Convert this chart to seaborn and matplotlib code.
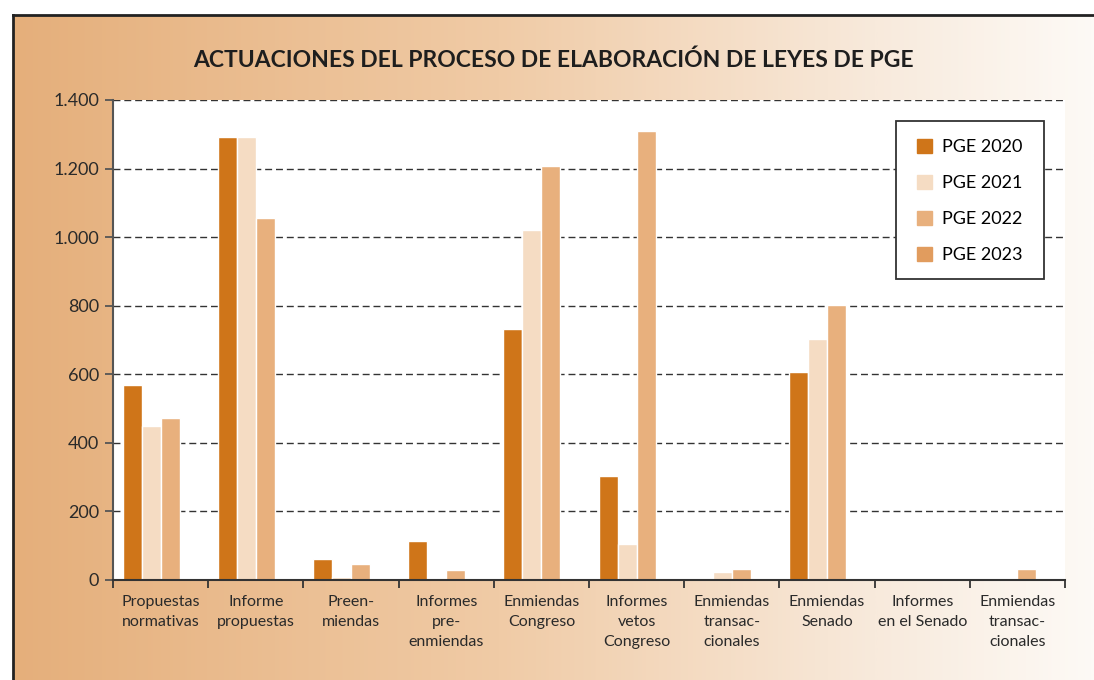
import numpy as np
import pandas as pd
import seaborn as sns
import matplotlib.pyplot as plt
from matplotlib.colors import LinearSegmentedColormap
from matplotlib.patches import Rectangle
from matplotlib.ticker import FuncFormatter

plt.rcParams['font.family'] = ['Lato', 'DejaVu Sans']

# datos
categorias = ["Propuestas\nnormativas", "Informe\npropuestas", "Preen-\nmiendas",
              "Informes\npre-\nenmiendas", "Enmiendas\nCongreso", "Informes\nvetos\nCongreso",
              "Enmiendas\ntransac-\ncionales", "Enmiendas\nSenado", "Informes\nen el Senado",
              "Enmiendas\ntransac-\ncionales"]
series = ["PGE 2020", "PGE 2021", "PGE 2022", "PGE 2023"]
pge_2020 = [568, 1291, 62, 114, 732, 304, 3, 608, 0, 0]
pge_2021 = [449, 1291, 10, 0, 1020, 106, 23, 704, 0, 0]
pge_2022 = [472, 1055, 47, 30, 1207, 1311, 32, 803, 0, 32]
pge_2023 = [0, 0, 0, 0, 0, 0, 0, 0, 0, 0]
colores = ["#CF7519", "#F5DCC3", "#E8B07D", "#E19C5E"]
yticks = [0, 200, 400, 600, 800, 1000, 1200, 1400]

valores = [pge_2020, pge_2021, pge_2022, pge_2023]
rows = []
for s, vals in zip(series, valores):
    for i, v in enumerate(vals):
        rows.append({"cat": i, "serie": s, "valor": v})
df = pd.DataFrame(rows)

W, H = 1094, 680
fig = plt.figure(figsize=(W / 100, H / 100), dpi=100)
fig.patch.set_facecolor("white")

# fondo con degradado y marco
bg = fig.add_axes([13 / W, 0, 1 - 13 / W, 1 - 15 / H], zorder=-1)
cmap = LinearSegmentedColormap.from_list("fondo", [(0, "#E5AF7B"), (0.45, "#F0CBA6"),
                                                    (0.8, "#F8EADC"), (1, "#FDFAF6")])
bg.imshow(np.linspace(0, 1, 512).reshape(1, -1), aspect="auto", cmap=cmap,
          extent=[0, 1, 0, 1])
bg.set_xticks([])
bg.set_yticks([])
for side in ["right", "bottom"]:
    bg.spines[side].set_visible(False)
for side in ["left", "top"]:
    bg.spines[side].set_linewidth(2)
    bg.spines[side].set_color("#222222")

ax = fig.add_axes([113 / W, 1 - 580 / H, 952 / W, 480 / H])
ax.set_facecolor("white")

sns.barplot(data=df, x="cat", y="valor", hue="serie", palette=colores, width=0.8,
            saturation=1, edgecolor="white", linewidth=1, ax=ax)

ax.set_xlim(-0.5, 9.5)
ax.set_ylim(0, 1400)
ax.set_yticks(yticks)
ax.yaxis.set_major_formatter(FuncFormatter(lambda v, p: f"{int(v):,}".replace(",", ".")))
ax.set_xticks(range(len(categorias)))
ax.set_xticklabels(categorias, linespacing=1.55)
ax.set_xticks(np.arange(-0.5, 10, 1), minor=True)
ax.tick_params(axis="x", which="major", length=0, pad=11, labelsize=11.5, colors="#2a2a2a")
ax.tick_params(axis="x", which="minor", length=6, width=1.3, color="#333333")
ax.tick_params(axis="y", length=6, width=1.3, color="#555555", labelsize=13,
               labelcolor="#2a2a2a", pad=4)
ax.set_xlabel("")
ax.set_ylabel("")

ax.set_axisbelow(True)
ax.yaxis.grid(True, linestyle=(0, (5, 2.8)), color="#333333", linewidth=1)
for side in ["top", "right"]:
    ax.spines[side].set_visible(False)
ax.spines["left"].set_color("#555555")
ax.spines["left"].set_linewidth(1.5)
ax.spines["bottom"].set_color("#333333")
ax.spines["bottom"].set_linewidth(1.5)

handles, labels = ax.get_legend_handles_labels()
for h, c in zip(handles, colores):
    h.set_facecolor(c)
    h.set_edgecolor(c)
# marco de la leyenda dibujado aparte
fig.add_artist(Rectangle((896 / W, 1 - 279 / H), 148 / W, 158 / H, transform=fig.transFigure,
                         facecolor="white", edgecolor="#333333", linewidth=1.3, zorder=4))
leg = ax.legend(handles, labels, loc="upper left", bbox_to_anchor=(917 / W, 1 - 139 / H),
                bbox_transform=fig.transFigure, fontsize=13, frameon=False,
                handlelength=0.85, handleheight=0.85, labelspacing=1.08, borderpad=0,
                borderaxespad=0, handletextpad=0.55)
leg.set_zorder(5)
leg.remove()
fig.add_artist(leg)

fig.text(553 / W, 1 - 60 / H, "ACTUACIONES DEL PROCESO DE ELABORACIÓN DE LEYES DE PGE",
         ha="center", va="center", fontsize=16.5, fontweight="bold", color="#1e1e1e")

fig.savefig("out.png", dpi=100)
